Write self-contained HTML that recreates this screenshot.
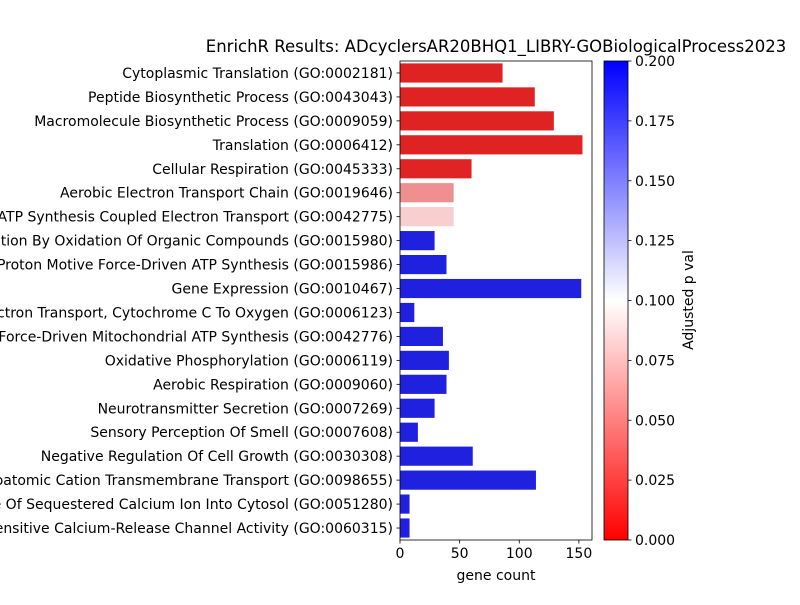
<!DOCTYPE html>
<html><head><meta charset="utf-8"><style>
body{margin:0;background:#fff;}
svg text{font-family:"DejaVu Sans","Liberation Sans",sans-serif;fill:#000;}
</style></head><body>
<svg id="chart" width="800" height="600" xmlns="http://www.w3.org/2000/svg">
<defs><linearGradient id="cbg" x1="0" y1="1" x2="0" y2="0">
<stop offset="0" stop-color="#ff0000"/><stop offset="0.5" stop-color="#ffffff"/><stop offset="1" stop-color="#0000ff"/>
</linearGradient></defs>
<text x="496" y="52" font-size="16.5" text-anchor="middle">EnrichR Results: ADcyclersAR20BHQ1_LIBRY-GOBiologicalProcess2023</text>
<g id="bars"></g>
<g id="axes"></g>
</svg>
<script>
const categories=["Cytoplasmic Translation (GO:0002181)","Peptide Biosynthetic Process (GO:0043043)","Macromolecule Biosynthetic Process (GO:0009059)","Translation (GO:0006412)","Cellular Respiration (GO:0045333)","Aerobic Electron Transport Chain (GO:0019646)","Mitochondrial ATP Synthesis Coupled Electron Transport (GO:0042775)","Energy Derivation By Oxidation Of Organic Compounds (GO:0015980)","Proton Motive Force-Driven ATP Synthesis (GO:0015986)","Gene Expression (GO:0010467)","Mitochondrial Electron Transport, Cytochrome C To Oxygen (GO:0006123)","Proton Motive Force-Driven Mitochondrial ATP Synthesis (GO:0042776)","Oxidative Phosphorylation (GO:0006119)","Aerobic Respiration (GO:0009060)","Neurotransmitter Secretion (GO:0007269)","Sensory Perception Of Smell (GO:0007608)","Negative Regulation Of Cell Growth (GO:0030308)","Monoatomic Cation Transmembrane Transport (GO:0098655)","Release Of Sequestered Calcium Ion Into Cytosol (GO:0051280)","Ryanodine-Sensitive Calcium-Release Channel Activity (GO:0060315)"];
const geneCounts=[86,113,129,153,60,45,45,29,39,152,12,36,41,39,29,15,61,114,8,8];
const pvals=[0.001,0.001,0.001,0.001,0.002,0.05,0.078,0.3,0.3,0.3,0.3,0.3,0.3,0.3,0.3,0.3,0.3,0.3,0.3,0.3];
const xTicks=[0,50,100,150];
const cTicks=[0,0.025,0.05,0.075,0.1,0.125,0.15,0.175,0.2];
const NS="http://www.w3.org/2000/svg";
const X0=400,X1=592,XMAX=161,Y0=61,Y1=540;
const xs=v=>X0+v/XMAX*(X1-X0);
const band=(Y1-Y0)/categories.length;
const ys=i=>Y0+i*band;
function mk(tag,attrs,parent){const e=document.createElementNS(NS,tag);for(const k in attrs)e.setAttribute(k,attrs[k]);parent.appendChild(e);return e;}
function color(p){let t=Math.min(Math.max(p/0.2,0),1);let r,g,b;if(t<0.5){r=1;g=b=2*t;}else{r=g=2*(1-t);b=1;}
 const mx=Math.max(r,g,b),mn=Math.min(r,g,b),l=(mx+mn)/2;if(mx===mn)return `rgb(${r*255},${g*255},${b*255})`;
 let s=l>0.5?(mx-mn)/(2-mx-mn):(mx-mn)/(mx+mn);s*=0.75;const c=(1-Math.abs(2*l-1))*s;const k=c/(mx-mn);
 const f=v=>Math.round(((v-(mx+mn)/2)*k+l)*255);return `rgb(${f(r)},${f(g)},${f(b)})`;}
const bars=document.getElementById('bars'),axes=document.getElementById('axes');
geneCounts.forEach((v,i)=>{const r=mk('rect',{x:X0,y:ys(i)+band*0.1,width:xs(v)-X0,height:band*0.8,fill:color(pvals[i])},bars);


mk('line',{x1:X0-3.5,x2:X0,y1:ys(i)+band/2,y2:ys(i)+band/2,stroke:'#000','stroke-width':0.8},axes);
const t=mk('text',{x:X0-7,y:ys(i)+band/2+5,'font-size':14,'text-anchor':'end'},axes);t.textContent=categories[i];

});
mk('rect',{x:X0,y:Y0,width:X1-X0,height:Y1-Y0,fill:'none',stroke:'#000','stroke-width':0.8},axes);
xTicks.forEach(v=>{mk('line',{x1:xs(v),x2:xs(v),y1:Y1,y2:Y1+3.5,stroke:'#000','stroke-width':0.8},axes);
const t=mk('text',{x:xs(v),y:Y1+18,'font-size':14,'text-anchor':'middle'},axes);t.textContent=v;

});
const xt=mk('text',{x:496,y:580,'font-size':14,'text-anchor':'middle'},axes);xt.textContent='gene count';


const CX=604,CW=24;
const cb=mk('rect',{x:CX,y:Y0,width:CW,height:Y1-Y0,fill:'url(#cbg)',stroke:'#000','stroke-width':0.8},axes);


const cy=v=>Y1-v/0.2*(Y1-Y0);
cTicks.forEach(v=>{mk('line',{x1:CX+CW,x2:CX+CW+3.5,y1:cy(v),y2:cy(v),stroke:'#000','stroke-width':0.8},axes);
const t=mk('text',{x:CX+CW+7,y:cy(v)+5,'font-size':14},axes);t.textContent=v.toFixed(3);

});
const ct=mk('text',{x:693,y:300,'font-size':14,'text-anchor':'middle',transform:'rotate(-90 693 300)'},axes);ct.textContent='Adjusted p val';


</script>
</body></html>
